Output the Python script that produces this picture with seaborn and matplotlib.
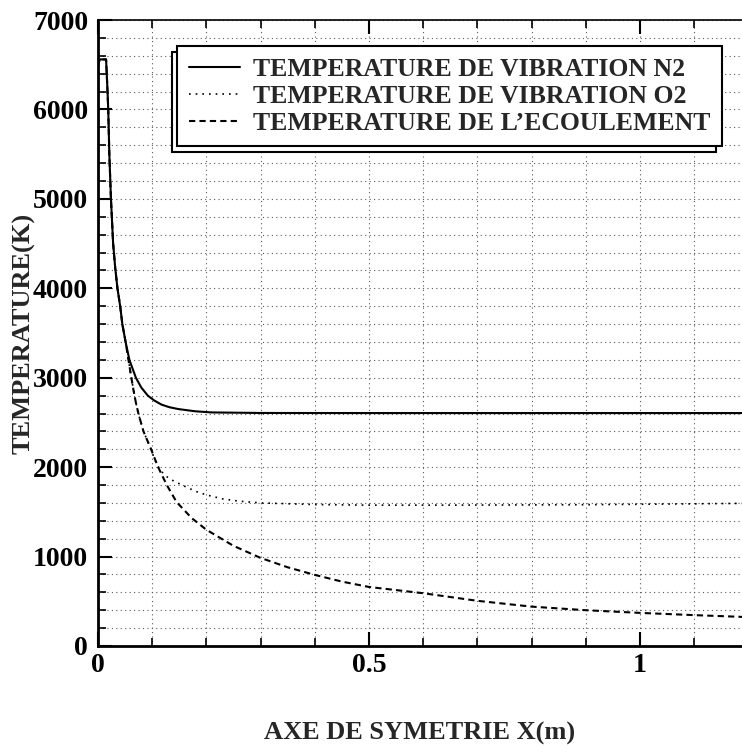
import numpy as np
import pandas as pd
import seaborn as sns
import matplotlib.pyplot as plt
from matplotlib.ticker import MultipleLocator

# Temperatures along the symmetry axis (x in m, T in K)
x_n2 = [0.0, 0.003, 0.015, 0.017, 0.019, 0.021, 0.024, 0.028, 0.032, 0.036,
        0.041, 0.045, 0.051, 0.058, 0.07, 0.08, 0.092, 0.104, 0.117, 0.132,
        0.148, 0.179, 0.21, 0.3, 0.5, 0.8, 1.0, 1.19]
t_n2 = [6480, 6560, 6560, 6300, 6000, 5500, 5000, 4500, 4220, 4000,
        3800, 3600, 3400, 3200, 3000, 2890, 2800, 2745, 2700, 2670,
        2650, 2625, 2612, 2606, 2605, 2605, 2605, 2605]

x_o2 = [0.0, 0.003, 0.015, 0.017, 0.019, 0.021, 0.024, 0.028, 0.032, 0.036,
        0.041, 0.045, 0.051, 0.055, 0.06, 0.065, 0.07, 0.075, 0.084, 0.098,
        0.105, 0.113, 0.123, 0.135, 0.155, 0.18, 0.2, 0.23, 0.26, 0.3,
        0.4, 0.5, 0.6, 0.7, 0.8, 0.9, 1.0, 1.1, 1.19]
t_o2 = [6480, 6560, 6560, 6300, 6000, 5500, 5000, 4500, 4220, 4000,
        3800, 3600, 3400, 3250, 3060, 2880, 2720, 2590, 2400, 2200,
        2080, 1985, 1910, 1860, 1800, 1730, 1690, 1645, 1620, 1600,
        1582, 1575, 1575, 1576, 1578, 1580, 1585, 1590, 1595]

x_flow = [0.0, 0.003, 0.015, 0.017, 0.019, 0.021, 0.024, 0.028, 0.032, 0.036,
          0.041, 0.045, 0.051, 0.055, 0.06, 0.065, 0.07, 0.075, 0.084, 0.098,
          0.111, 0.127, 0.145, 0.173, 0.2, 0.25, 0.3, 0.35, 0.4, 0.45,
          0.5, 0.6, 0.7, 0.8, 0.9, 1.0, 1.1, 1.19]
t_flow = [6480, 6560, 6560, 6300, 6000, 5500, 5000, 4500, 4220, 4000,
          3800, 3600, 3400, 3250, 3060, 2880, 2720, 2590, 2400, 2200,
          2000, 1800, 1610, 1430, 1300, 1120, 985, 880, 795, 720,
          660, 590, 505, 440, 400, 370, 345, 325]

labels = ["TEMPERATURE DE VIBRATION N2",
          "TEMPERATURE DE VIBRATION O2",
          "TEMPERATURE DE L\u2019ECOULEMENT"]

y_ticks = [0, 1000, 2000, 3000, 4000, 5000, 6000, 7000]
x_ticks = [0, 0.5, 1]
x_ticklabels = ["0", "0.5", "1"]

df = pd.concat([
    pd.DataFrame({"x": x_n2, "T": t_n2, "serie": labels[0]}),
    pd.DataFrame({"x": x_o2, "T": t_o2, "serie": labels[1]}),
    pd.DataFrame({"x": x_flow, "T": t_flow, "serie": labels[2]}),
], ignore_index=True)

sns.set_style("ticks")
plt.rcParams['font.family'] = ['Liberation Serif', 'DejaVu Serif']
plt.rcParams['font.weight'] = 'bold'

fig = plt.figure(figsize=(7.42, 7.55), dpi=100)
ax = fig.add_axes([0.132, 0.1444, 0.868, 0.829])

line_styles = {labels[0]: "", labels[1]: (1, 3), labels[2]: (3, 2)}
widths = {labels[0]: 1.5, labels[1]: 1.2, labels[2]: 1.5}
for lab in labels:
    sub = df[df["serie"] == lab]
    sns.lineplot(data=sub, x="x", y="T", ax=ax, color="black",
                 sort=False, estimator=None, legend=False,
                 linewidth=widths[lab], dashes=False)
for line, lab in zip(ax.lines, labels):
    if line_styles[lab]:
        line.set_dashes(line_styles[lab])

ax.set_xlim(0, 1.188)
ax.set_ylim(0, 7000)
ax.set_xticks(x_ticks, x_ticklabels)
ax.xaxis.set_minor_locator(MultipleLocator(0.1))
ax.set_yticks(y_ticks, [str(v) for v in y_ticks])
ax.yaxis.set_minor_locator(MultipleLocator(200))

ax.grid(True, which="both", color="0.35", linestyle=(0, (1, 3)), linewidth=0.8)
ax.tick_params(which="both", direction="in", top=True, right=False, colors="black")
ax.tick_params(which="major", length=10, width=1.5, labelsize=20)
ax.tick_params(axis="y", which="major", pad=7)
ax.tick_params(axis="x", which="major", pad=5)
ax.tick_params(which="minor", length=5.5, width=1.2)

for s in ["left", "bottom"]:
    ax.spines[s].set_linewidth(2)
ax.spines["top"].set_linewidth(1.2)
ax.spines["right"].set_visible(False)
for s in ax.spines.values():
    s.set_color("black")

for lbl in ax.get_xticklabels() + ax.get_yticklabels():
    lbl.set_fontweight("bold")

ax.set_xlabel("AXE DE SYMETRIE X(m)", fontsize=19, fontweight="bold", labelpad=32)
ax.set_ylabel("TEMPERATURE(K)", fontsize=19, fontweight="bold", labelpad=-2)

leg = ax.legend(ax.lines[:3], labels, loc="upper right",
                bbox_to_anchor=(0.969, 0.958), fancybox=False, framealpha=1,
                edgecolor="black", prop={"size": 18.5, "weight": "bold"},
                handlelength=2.0, handletextpad=0.5, labelspacing=0.15,
                borderpad=0.45, borderaxespad=0,
                shadow={"ox": -4, "oy": -4, "facecolor": "white",
                        "edgecolor": "black", "alpha": 1, "linewidth": 1.5})
leg.get_frame().set_linewidth(1.5)

fig.savefig("out.png", dpi=100)
